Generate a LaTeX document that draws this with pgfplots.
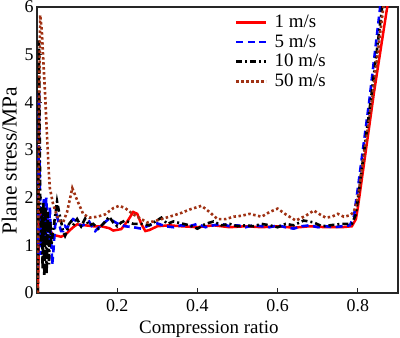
\documentclass[border=0pt]{standalone}
\usepackage{fontspec}
\setmainfont{Liberation Serif}
\usepackage{pgfplots}
\pgfplotsset{compat=1.18}
\definecolor{cbrown}{RGB}{160,50,20}
\begin{document}
\begin{tikzpicture}
\begin{axis}[
  scale only axis,
  width=361bp, height=286bp,
  xmin=0, xmax=0.9, ymin=0, ymax=6,
  xtick={0.2,0.4,0.6,0.8},
  ytick={0,1,2,3,4,5,6},
  xticklabels={0.2,0.4,0.6,0.8},
  tick align=inside,
  xtick pos=bottom, ytick pos=left,
  major tick length=5bp,
  axis line style={line width=1.1bp, black!85},
  tick style={line width=1bp, black!85},
  /pgf/number format/assume math mode=true,
  tick label style={font=\fontsize{18}{20}\selectfont},
  xticklabel style={yshift=-3bp},
  xlabel={Compression ratio},
  ylabel={Plane stress/MPa},
  xlabel style={font=\fontsize{19}{21}\selectfont, at={(axis description cs:0.476,-0.14)}, anchor=base},
  ylabel style={font=\fontsize{21.5}{23}\selectfont, at={(axis description cs:-0.077,0.463)}, anchor=center},
  legend style={draw=none, fill=none, at={(axis description cs:0.54,0.985)}, anchor=north west,
    font=\fontsize{19}{21}\selectfont, row sep=1.6bp,
    nodes={inner sep=1bp, text height=13bp, text depth=3bp},
    /tikz/every odd column/.append style={column sep=6bp}},
  legend cell align=left,
  legend image code/.code={\draw[#1] (0bp,0bp) -- (30bp,0bp);},
]
% 1 m/s
\addplot[red, line width=2.5bp] coordinates {
(0.002,0) (0.004,0.8) (0.006,1.8) (0.008,1.3) (0.011,1.75) (0.014,1.4) (0.018,1.6) (0.022,1.35) (0.026,1.55) (0.030,1.35) (0.035,1.28) (0.040,1.22) (0.05,1.2) (0.06,1.18) (0.07,1.22) (0.08,1.3) (0.09,1.38) (0.1,1.44) (0.12,1.42) (0.14,1.4) (0.16,1.4) (0.18,1.36) (0.19,1.31) (0.21,1.34) (0.225,1.5) (0.24,1.7) (0.25,1.66) (0.26,1.45) (0.27,1.3) (0.28,1.32) (0.3,1.4) (0.33,1.42) (0.36,1.4) (0.4,1.38) (0.44,1.42) (0.48,1.38) (0.52,1.4) (0.56,1.38) (0.6,1.4) (0.64,1.37) (0.68,1.4) (0.72,1.38) (0.76,1.38) (0.785,1.4) (0.795,1.55) (0.80,1.8) (0.81,2.4) (0.84,4.2) (0.875,6.1)
};
% 5 m/s
\addplot[blue, line width=2.6bp, dash pattern=on 7bp off 4.5bp] coordinates {
(0.002,0.3) (0.004,2.5) (0.005,4.2) (0.006,3.0) (0.008,1.5) (0.010,0.8) (0.012,1.8) (0.014,1.0) (0.017,2.0) (0.020,1.2) (0.023,2.0) (0.026,1.5) (0.029,1.0) (0.032,1.8) (0.035,1.2) (0.038,0.6) (0.041,0.9) (0.045,1.4) (0.050,1.6) (0.055,1.45) (0.06,1.3) (0.065,1.3) (0.07,1.4) (0.075,1.35) (0.08,1.45) (0.09,1.55) (0.10,1.5) (0.11,1.4) (0.12,1.45) (0.13,1.5) (0.14,1.35) (0.145,1.3) (0.16,1.42) (0.18,1.56) (0.2,1.46) (0.22,1.4) (0.24,1.38) (0.26,1.35) (0.28,1.42) (0.30,1.46) (0.32,1.4) (0.34,1.38) (0.36,1.42) (0.38,1.4) (0.40,1.45) (0.42,1.38) (0.44,1.42) (0.46,1.45) (0.48,1.4) (0.50,1.42) (0.52,1.38) (0.54,1.42) (0.56,1.4) (0.58,1.38) (0.60,1.42) (0.62,1.38) (0.64,1.35) (0.66,1.4) (0.68,1.42) (0.70,1.38) (0.72,1.4) (0.74,1.38) (0.76,1.4) (0.78,1.42) (0.79,1.6) (0.80,2.2) (0.828,4.0) (0.857,6.1)
};
% 10 m/s
\addplot[black, line width=2.6bp, dash pattern=on 6bp off 3bp on 2bp off 3bp] coordinates {
(0.002,0) (0.004,3.0) (0.005,5.3) (0.006,4.0) (0.008,2.0) (0.010,1.0) (0.012,1.8) (0.014,0.5) (0.016,1.9) (0.018,0.35) (0.021,1.8) (0.024,0.4) (0.027,1.7) (0.030,0.6) (0.033,1.5) (0.036,1.0) (0.040,1.3) (0.045,1.6) (0.050,1.92) (0.055,1.7) (0.060,1.5) (0.065,1.3) (0.070,1.2) (0.075,1.3) (0.08,1.45) (0.085,1.5) (0.09,1.42) (0.1,1.55) (0.11,1.4) (0.12,1.56) (0.13,1.42) (0.14,1.45) (0.153,1.35) (0.165,1.45) (0.18,1.6) (0.19,1.48) (0.2,1.4) (0.21,1.48) (0.22,1.52) (0.24,1.45) (0.26,1.45) (0.28,1.42) (0.31,1.58) (0.325,1.45) (0.34,1.5) (0.36,1.46) (0.38,1.42) (0.40,1.35) (0.42,1.45) (0.44,1.5) (0.46,1.42) (0.48,1.45) (0.50,1.4) (0.52,1.42) (0.54,1.4) (0.56,1.45) (0.58,1.42) (0.60,1.38) (0.62,1.45) (0.64,1.42) (0.665,1.52) (0.69,1.48) (0.71,1.4) (0.73,1.42) (0.76,1.45) (0.785,1.45) (0.795,1.65) (0.805,2.3) (0.833,4.1) (0.862,6.1)
};
% 50 m/s
\addplot[cbrown, line width=2.6bp, dash pattern=on 2.5bp off 2.5bp] coordinates {
(0.002,0) (0.004,2.0) (0.006,4.5) (0.008,5.83) (0.012,5.5) (0.015,5.0) (0.020,4.2) (0.025,3.3) (0.029,2.6) (0.032,2.2) (0.040,1.87) (0.048,1.66) (0.055,1.52) (0.065,1.48) (0.075,1.7) (0.088,2.2) (0.10,1.95) (0.115,1.66) (0.13,1.58) (0.15,1.6) (0.17,1.65) (0.19,1.78) (0.205,1.83) (0.22,1.78) (0.24,1.65) (0.26,1.55) (0.275,1.48) (0.29,1.5) (0.31,1.55) (0.33,1.6) (0.36,1.68) (0.38,1.75) (0.41,1.83) (0.43,1.7) (0.45,1.55) (0.47,1.55) (0.49,1.6) (0.51,1.62) (0.53,1.66) (0.56,1.6) (0.58,1.7) (0.60,1.77) (0.62,1.65) (0.645,1.52) (0.67,1.62) (0.69,1.73) (0.705,1.65) (0.72,1.58) (0.735,1.6) (0.75,1.66) (0.765,1.6) (0.78,1.63) (0.79,1.7) (0.80,2.0) (0.81,2.6) (0.836,4.1) (0.865,6.1)
};
\legend{1 m/s, 5 m/s, 10 m/s, 50 m/s}
\end{axis}
\pgfresetboundingbox
\path ([shift={(-37bp,-45bp)}]current axis.south west) rectangle ([shift={(2bp,7bp)}]current axis.north east);
\end{tikzpicture}
\end{document}
